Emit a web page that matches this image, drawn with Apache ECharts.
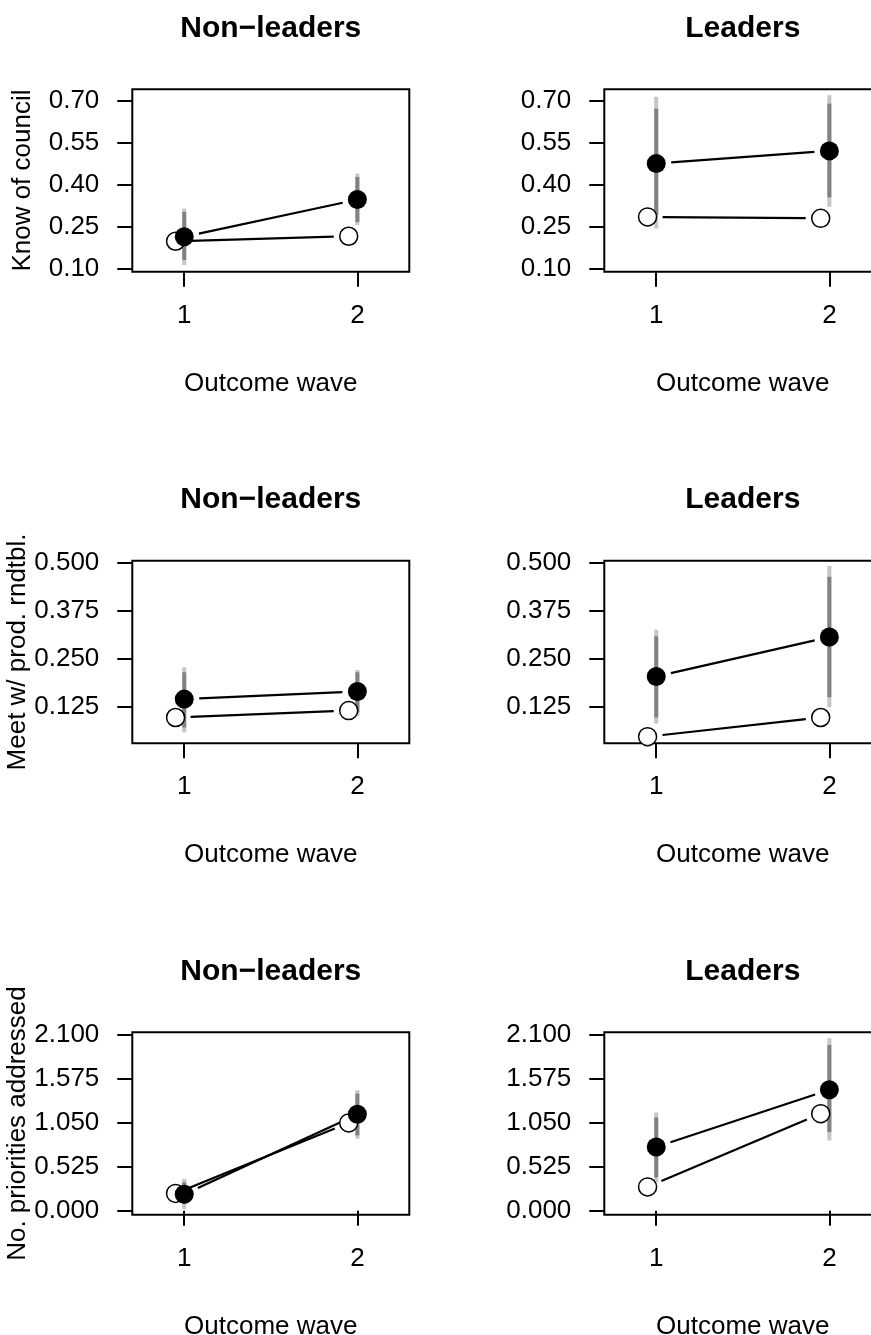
<!DOCTYPE html>
<html><head><meta charset="utf-8">
<script src="https://cdn.jsdelivr.net/npm/echarts@6/dist/echarts.min.js"></script>
<style>html,body{margin:0;padding:0;background:#fff}#c{width:871px;height:1335px}</style>
</head><body><div id="c"></div>
<script>
// ---------- data ----------
const waves = [1, 2];
const xTicks = [1, 2];
const xTickLabels = ['1', '2'];
const panelTitles = ['Non\u2212leaders', 'Leaders'];
const xAxisTitle = 'Outcome wave';
const outcomeNames = ['Know of council', 'Meet w/ prod. rndtbl.', 'No. priorities addressed'];

const knowTicks = [0.10, 0.25, 0.40, 0.55, 0.70];
const knowTickLabels = ['0.10', '0.25', '0.40', '0.55', '0.70'];
const meetTicks = [0.125, 0.250, 0.375, 0.500];
const meetTickLabels = ['0.125', '0.250', '0.375', '0.500'];
const prioTicks = [0.000, 0.525, 1.050, 1.575, 2.100];
const prioTickLabels = ['0.000', '0.525', '1.050', '1.575', '2.100'];

const knowLimits = [0.088, 0.740];
const meetLimits = [0.029, 0.505];
const prioLimits = [-0.048, 2.132];
const xLimits = [0.7, 2.3];

// Know of council — Non-leaders
const knowNonFilled = [0.213, 0.346];
const knowNonOpen = [0.197, 0.215];
const knowNonOuterLo = [0.112, 0.255];
const knowNonOuterHi = [0.314, 0.439];
const knowNonInnerLo = [0.130, 0.266];
const knowNonInnerHi = [0.302, 0.427];
// Know of council — Leaders
const knowLeadFilled = [0.475, 0.520];
const knowLeadOpen = [0.284, 0.279];
const knowLeadOuterLo = [0.243, 0.320];
const knowLeadOuterHi = [0.713, 0.719];
const knowLeadInnerLo = [0.290, 0.354];
const knowLeadInnerHi = [0.671, 0.689];
// Meet w/ prod. rndtbl. — Non-leaders
const meetNonFilled = [0.144, 0.164];
const meetNonOpen = [0.096, 0.114];
const meetNonOuterLo = [0.057, 0.100];
const meetNonOuterHi = [0.227, 0.220];
const meetNonInnerLo = [0.070, 0.109];
const meetNonInnerHi = [0.214, 0.214];
// Meet w/ prod. rndtbl. — Leaders
const meetLeadFilled = [0.203, 0.306];
const meetLeadOpen = [0.046, 0.096];
const meetLeadOuterLo = [0.080, 0.122];
const meetLeadOuterHi = [0.325, 0.491];
const meetLeadInnerLo = [0.096, 0.149];
const meetLeadInnerHi = [0.308, 0.463];
// No. priorities addressed — Non-leaders
const prioNonFilled = [0.197, 1.152];
const prioNonOpen = [0.207, 1.050];
const prioNonOuterLo = [0.020, 0.860];
const prioNonOuterHi = [0.380, 1.440];
const prioNonInnerLo = [0.080, 0.900];
const prioNonInnerHi = [0.340, 1.400];
// No. priorities addressed — Leaders
const prioLeadFilled = [0.762, 1.445];
const prioLeadOpen = [0.285, 1.160];
const prioLeadOuterLo = [0.340, 0.840];
const prioLeadOuterHi = [1.175, 2.060];
const prioLeadInnerLo = [0.400, 0.940];
const prioLeadInnerHi = [1.115, 1.980];

// ---------- layout / style ----------
const openOffset = -0.05;
const FONT = 'Liberation Sans';
const FS = 26;
const rowTops = [89.3, 560.7, 1032.3];
const colLefts = [132.3, 604.3];
const boxW = 277, boxH = 182.5;

const panels = [
  {row: 0, col: 0, ticks: knowTicks, labels: knowTickLabels, lim: knowLimits, filled: knowNonFilled, open: knowNonOpen, oLo: knowNonOuterLo, oHi: knowNonOuterHi, iLo: knowNonInnerLo, iHi: knowNonInnerHi},
  {row: 0, col: 1, ticks: knowTicks, labels: knowTickLabels, lim: knowLimits, filled: knowLeadFilled, open: knowLeadOpen, oLo: knowLeadOuterLo, oHi: knowLeadOuterHi, iLo: knowLeadInnerLo, iHi: knowLeadInnerHi},
  {row: 1, col: 0, ticks: meetTicks, labels: meetTickLabels, lim: meetLimits, filled: meetNonFilled, open: meetNonOpen, oLo: meetNonOuterLo, oHi: meetNonOuterHi, iLo: meetNonInnerLo, iHi: meetNonInnerHi},
  {row: 1, col: 1, ticks: meetTicks, labels: meetTickLabels, lim: meetLimits, filled: meetLeadFilled, open: meetLeadOpen, oLo: meetLeadOuterLo, oHi: meetLeadOuterHi, iLo: meetLeadInnerLo, iHi: meetLeadInnerHi},
  {row: 2, col: 0, ticks: prioTicks, labels: prioTickLabels, lim: prioLimits, filled: prioNonFilled, open: prioNonOpen, oLo: prioNonOuterLo, oHi: prioNonOuterHi, iLo: prioNonInnerLo, iHi: prioNonInnerHi},
  {row: 2, col: 1, ticks: prioTicks, labels: prioTickLabels, lim: prioLimits, filled: prioLeadFilled, open: prioLeadOpen, oLo: prioLeadOuterLo, oHi: prioLeadOuterHi, iLo: prioLeadInnerLo, iHi: prioLeadInnerHi}
];

function labelFor(ticks, labels) {
  return function (v) {
    let best = 0, d = Infinity;
    ticks.forEach((t, i) => { const dd = Math.abs(t - v); if (dd < d) { d = dd; best = i; } });
    return labels[best];
  };
}

const grids = [], xAxes = [], yAxes = [], series = [], graphics = [];

panels.forEach((p, k) => {
  grids.push({left: colLefts[p.col], top: rowTops[p.row], width: boxW, height: boxH,
    show: true, borderColor: '#000', borderWidth: 2, backgroundColor: 'transparent',
    containLabel: false, outerBoundsMode: 'none'});

  xAxes.push({gridIndex: k, type: 'value', min: xLimits[0], max: xLimits[1],
    axisLine: {show: false}, splitLine: {show: false},
    axisTick: {show: true, length: 15, lineStyle: {color: '#000', width: 2}, customValues: xTicks},
    axisLabel: {customValues: xTicks, formatter: labelFor(xTicks, xTickLabels), margin: 31,
      fontFamily: FONT, fontSize: FS, color: '#000'},
    name: xAxisTitle, nameLocation: 'middle', nameGap: 99,
    nameTextStyle: {fontFamily: FONT, fontSize: FS, color: '#000'}
  });

  const ya = {gridIndex: k, type: 'value', min: p.lim[0], max: p.lim[1],
    axisLine: {show: false}, splitLine: {show: false},
    axisTick: {show: true, length: 15, lineStyle: {color: '#000', width: 2}, customValues: p.ticks},
    axisLabel: {customValues: p.ticks, formatter: labelFor(p.ticks, p.labels), margin: 33,
      fontFamily: FONT, fontSize: FS, color: '#000'}
  };
  if (p.col === 0) {
    ya.name = outcomeNames[p.row];
    ya.nameLocation = 'middle';
    ya.nameGap = 96;
    ya.nameTextStyle = {fontFamily: FONT, fontSize: FS, color: '#000'};
  }
  yAxes.push(ya);

  // confidence bars (outer light, inner dark)
  series.push({type: 'custom', xAxisIndex: k, yAxisIndex: k, z: 1, silent: true,
    data: waves.map((w, i) => [w, p.oLo[i], p.oHi[i], p.iLo[i], p.iHi[i]]),
    encode: {x: 0, y: [1, 2, 3, 4]},
    renderItem: function (params, api) {
      const x = api.value(0);
      const a = api.coord([x, api.value(1)]), b = api.coord([x, api.value(2)]);
      const c = api.coord([x, api.value(3)]), d = api.coord([x, api.value(4)]);
      return {type: 'group', children: [
        {type: 'line', shape: {x1: a[0], y1: a[1], x2: b[0], y2: b[1]}, style: {stroke: '#c6c6c6', lineWidth: 4}},
        {type: 'line', shape: {x1: c[0], y1: c[1], x2: d[0], y2: d[1]}, style: {stroke: '#828282', lineWidth: 4}}
      ]};
    }
  });

  // connecting lines with gaps around points (R type = "b")
  const segData = [
    [waves[0] + openOffset, p.open[0], waves[1] + openOffset, p.open[1]],
    [waves[0], p.filled[0], waves[1], p.filled[1]]
  ];
  series.push({type: 'custom', xAxisIndex: k, yAxisIndex: k, z: 2, silent: true,
    data: segData, encode: {x: [0, 2], y: [1, 3]},
    renderItem: function (params, api) {
      const p1 = api.coord([api.value(0), api.value(1)]);
      const p2 = api.coord([api.value(2), api.value(3)]);
      const dx = p2[0] - p1[0], dy = p2[1] - p1[1];
      const len = Math.sqrt(dx * dx + dy * dy), gap = 15;
      const ux = dx / len, uy = dy / len;
      return {type: 'line', shape: {x1: p1[0] + ux * gap, y1: p1[1] + uy * gap, x2: p2[0] - ux * gap, y2: p2[1] - uy * gap},
        style: {stroke: '#000', lineWidth: 2.2}};
    }
  });

  series.push({type: 'scatter', xAxisIndex: k, yAxisIndex: k, z: 3, silent: true,
    symbol: 'circle', symbolSize: 18,
    itemStyle: {color: '#fff', borderColor: '#000', borderWidth: 1.5, opacity: 1},
    data: waves.map((w, i) => [w + openOffset, p.open[i]])});
  series.push({type: 'scatter', xAxisIndex: k, yAxisIndex: k, z: 4, silent: true,
    symbol: 'circle', symbolSize: 19,
    itemStyle: {color: '#000', opacity: 1},
    data: waves.map((w, i) => [w, p.filled[i]])});

  graphics.push({type: 'text', x: colLefts[p.col] + boxW / 2, y: rowTops[p.row] - 61,
    style: {text: panelTitles[p.col], fontFamily: 'Liberation Sans', fontWeight: 'bold', fontSize: 30,
      fill: '#000', textAlign: 'center', textVerticalAlign: 'middle'}});
});

const chart = echarts.init(document.getElementById('c'), null, {renderer: 'canvas'});
chart.setOption({
  animation: false,
  backgroundColor: '#fff',
  grid: grids, xAxis: xAxes, yAxis: yAxes, series: series, graphic: graphics
});
</script>
</body></html>
